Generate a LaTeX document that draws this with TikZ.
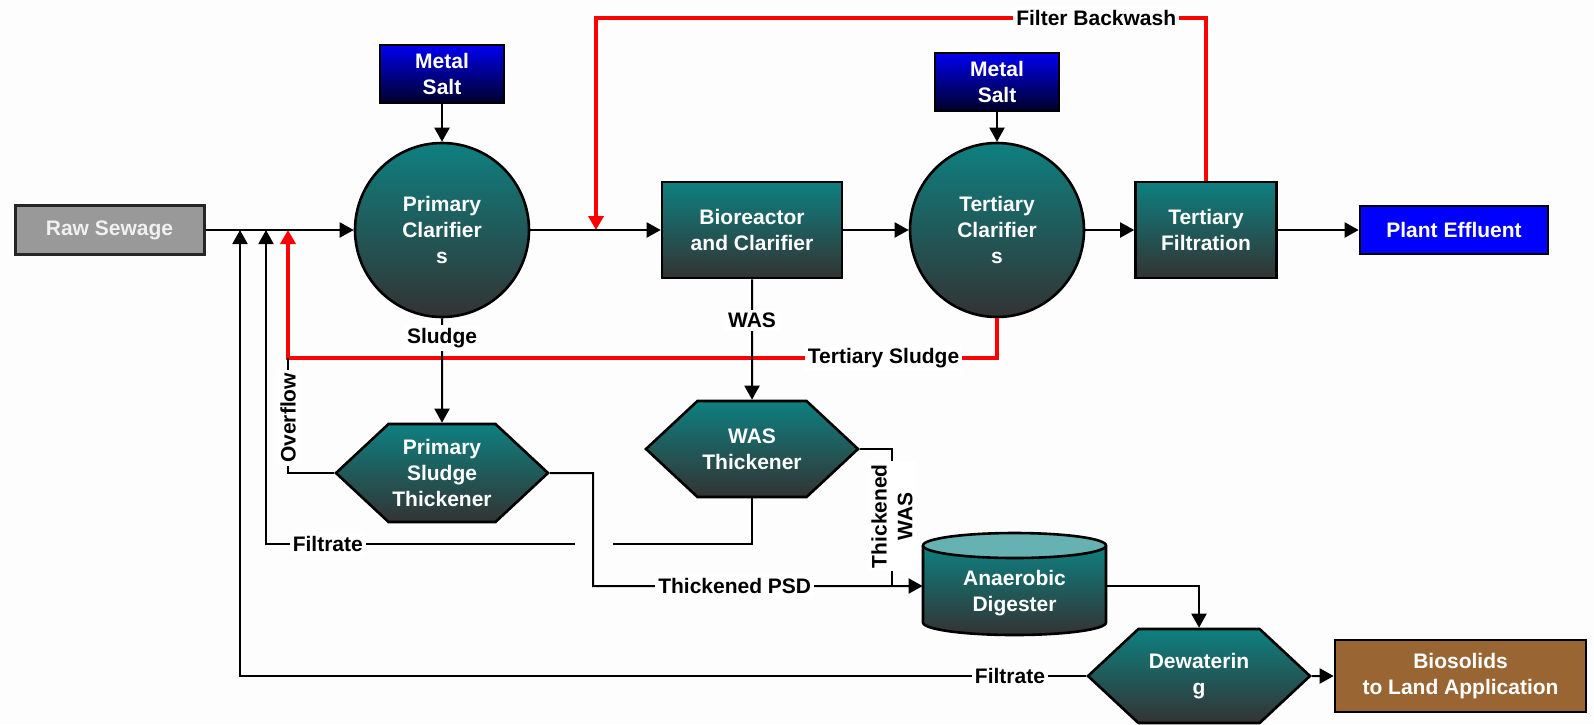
\documentclass[tikz,border=0pt]{standalone}
\usepackage{fontspec}
\setmainfont{Liberation Sans}
\usetikzlibrary{arrows.meta,shapes.symbols}
\definecolor{tealtop}{RGB}{14,128,128}
\definecolor{tealbot}{RGB}{51,51,51}
\definecolor{captop}{RGB}{102,178,178}
\definecolor{salttop}{RGB}{0,0,240}
\definecolor{saltbot}{RGB}{0,0,40}
\definecolor{rawgray}{RGB}{153,153,153}
\definecolor{effblue}{RGB}{0,0,255}
\definecolor{soilbrown}{RGB}{153,102,51}
\definecolor{pagebg}{RGB}{253,253,253}
\begin{document}
\begin{tikzpicture}[x=.5pt,y=-.5pt,>={Triangle[length=7pt,width=7.5pt]},line join=miter,
	font=\bfseries\fontsize{10.5}{12.8}\selectfont,
	plain/.style={draw,line width=1.3pt,text=white,align=center,inner sep=0pt},
	unit/.style={plain,top color=tealtop,bottom color=tealbot},
	box/.style={unit,rectangle,minimum height=48pt},
	tank/.style={unit,circle,minimum size=87pt},
	hexa/.style={unit,signal,signal to=west and east,signal pointer angle=86,minimum width=106pt,minimum height=48pt},
	salt/.style={plain,top color=salttop,bottom color=saltbot,minimum width=62pt,minimum height=29pt},
	flow/.style={line width=1pt},
	recyc/.style={line width=2pt,red},
	tag/.style={fill=white,text=black,inner sep=1.5pt}]
	\fill[pagebg] (0,0) rectangle (1594,724);
	\useasboundingbox (0,0) rectangle (1594,724);
	\path
	(109.5,230) node[plain,fill=rawgray,draw=black!85,line width=1.5pt,text=white!94!black,minimum width=94.5pt,minimum height=24.5pt] (raw) {Raw Sewage}
	(442,74) node[salt] (salt1) {Metal\\Salt}
	(442,230) node[tank] (pc) {Primary\\Clarifier\\s}
	(752,230) node[box,minimum width=90pt] (bio) {Bioreactor\\and Clarifier}
	(997,82) node[salt] (salt2) {Metal\\Salt}
	(997,230) node[tank] (tc) {Tertiary\\Clarifier\\s}
	(1206,230) node[box,minimum width=70.5pt] (tf) {Tertiary\\Filtration}
	(1454,230) node[plain,fill=effblue,minimum width=94pt,minimum height=24pt] (eff) {Plant Effluent}
	(442,473) node[hexa,minimum height=49pt] (pst) {Primary\\Sludge\\Thickener}
	(752,449) node[hexa] (wast) {WAS\\Thickener}
	(1199,676) node[hexa,minimum width=111pt,minimum height=47pt] (dew) {Dewaterin\\g}
	(1460.5,676) node[plain,fill=soilbrown,minimum width=125.5pt,minimum height=36pt] (land) {Biosolids\\to Land Application}
	;
	% digester drum
	\shade[top color=tealtop,bottom color=tealbot]
	(923,545.5) -- (923,622.5) arc[start angle=180,end angle=360,x radius=45.75pt,y radius=6.25pt] -- (1106,545.5) -- cycle;
	\draw[line width=1.3pt]
	(923,545.5) -- (923,622.5) arc[start angle=180,end angle=360,x radius=45.75pt,y radius=6.25pt] -- (1106,545.5);
	\filldraw[fill=captop,line width=1.3pt] (1014.5,545.5) ellipse[x radius=45.75pt,y radius=6.25pt];
	\node[text=white,align=center,inner sep=0pt,minimum width=91.5pt] (dig) at (1014.5,593) {Anaerobic\\Digester};
	\path
	(240,230) coordinate (in1)
	(266,230) coordinate (in2)
	(288,230) coordinate (in3)
	(596,230) coordinate (in4)
	(240,676) coordinate (f1)
	(266,544) coordinate (f2)
	(575,544) coordinate (gapL)
	(613,544) coordinate (gapR)
	(288,358) coordinate (ts)
	(1206,18) coordinate (fb)
	(593,473) coordinate (psd)
	(892,586) coordinate (twas)
	([yshift=3.5pt]dig.west) coordinate (digin)
	([yshift=3.5pt]dig.east) coordinate (digout)
	;
	% recycle lines
	\draw[recyc,->]
	(tf) -- (fb) -| node[tag,pos=.09]{Filter Backwash} (in4);
	\draw[recyc,->]
	(tc) |- node[tag,pos=.58]{Tertiary Sludge} (ts) -- (in3);
	% main flow
	\draw[flow,->] (raw) -- (pc);
	\draw[flow,->] (pc) -- (bio);
	\draw[flow,->] (bio) -- (tc);
	\draw[flow,->] (tc) -- (tf);
	\draw[flow,->] (tf) -- (eff);
	\draw[flow,->] (salt1) -- (pc);
	\draw[flow,->] (salt2) -- (tc);
	% sludge side
	\draw[flow,->] (pc) -- node[tag,pos=.19]{Sludge} (pst);
	\draw[flow,->] (bio) -- node[tag,pos=.34]{WAS} (wast);
	\draw[flow] (pst) -| node[tag,rotate=90,pos=.74]{Overflow} (ts);
	\draw[flow] (wast) |- (gapR);
	\draw[flow,->] (gapL) -- node[tag,pos=.8]{Filtrate} (f2) -- (in2);
	\draw[flow,->] (pst) -- (psd) |- node[tag,pos=.715]{Thickened PSD} (digin);
	\draw[flow] (wast) -| node[tag,rotate=90,align=center,pos=.745]{Thickened\\WAS} (twas);
	\draw[flow,->] (digout) -| (dew);
	\draw[flow,->] (dew) -- (land);
	\draw[flow,->] (dew) -- node[tag,pos=.09]{Filtrate} (f1) -- (in1);
\end{tikzpicture}
\end{document}
